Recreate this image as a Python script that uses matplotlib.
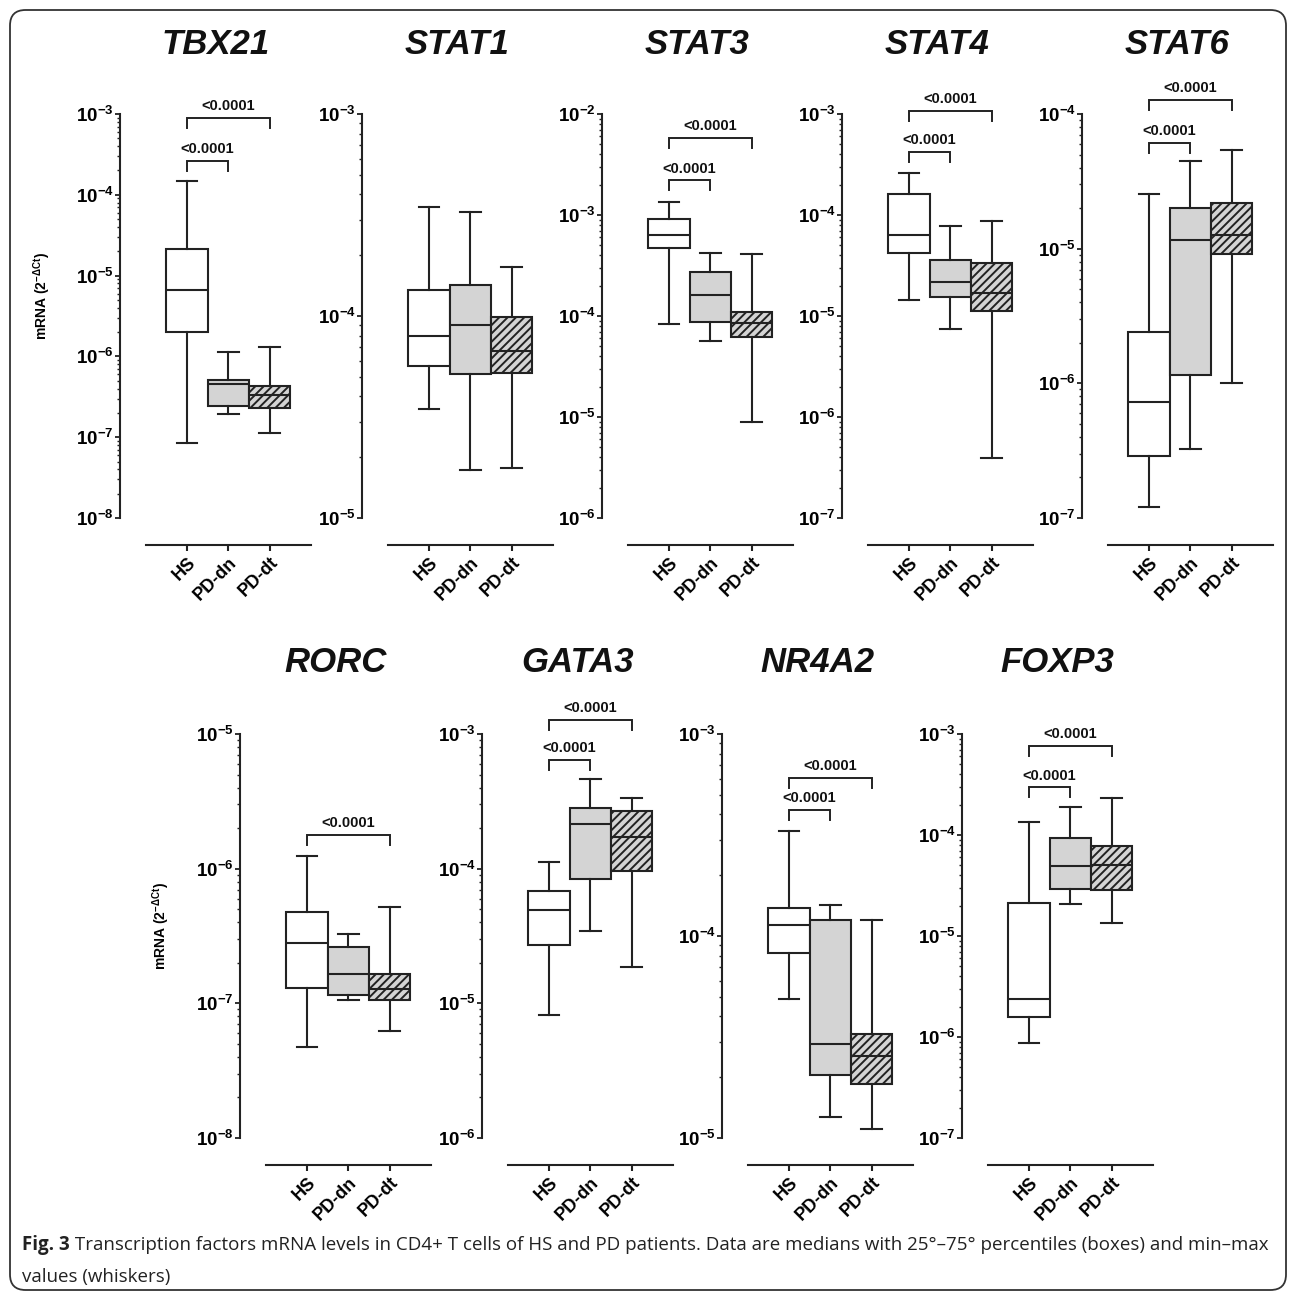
import numpy as np
import matplotlib
matplotlib.use("Agg")
import matplotlib.pyplot as plt
from matplotlib.ticker import LogLocator, NullFormatter, FuncFormatter
from matplotlib.patches import FancyBboxPatch

# ---------------- data ----------------
GENES = ["TBX21", "STAT1", "STAT3", "STAT4", "STAT6", "RORC", "GATA3", "NR4A2", "FOXP3"]
GROUPS = ["HS", "PD-dn", "PD-dt"]

WHISLO = [
    [8.4e-8, 1.94e-7, 1.12e-7],
    [3.47e-5, 1.73e-5, 1.76e-5],
    [8.3e-5, 5.7e-5, 9.0e-6],
    [1.44e-5, 7.5e-6, 3.9e-7],
    [1.2e-7, 3.25e-7, 1.0e-6],
    [4.7e-8, 1.05e-7, 6.2e-8],
    [8.2e-6, 3.46e-5, 1.85e-5],
    [4.9e-5, 1.27e-5, 1.11e-5],
    [8.7e-7, 2.06e-5, 1.33e-5],
]
Q1 = [
    [2.0e-6, 2.45e-7, 2.33e-7],
    [5.68e-5, 5.19e-5, 5.2e-5],
    [4.7e-4, 8.8e-5, 6.2e-5],
    [4.2e-5, 1.53e-5, 1.12e-5],
    [2.89e-7, 1.15e-6, 9.2e-6],
    [1.3e-7, 1.16e-7, 1.06e-7],
    [2.73e-5, 8.36e-5, 9.6e-5],
    [8.28e-5, 2.05e-5, 1.85e-5],
    [1.59e-6, 2.93e-5, 2.84e-5],
]
MEDIAN = [
    [6.6e-6, 4.6e-7, 3.3e-7],
    [7.96e-5, 9.0e-5, 6.7e-5],
    [6.3e-4, 1.62e-4, 8.5e-5],
    [6.35e-5, 2.16e-5, 1.7e-5],
    [7.3e-7, 1.16e-5, 1.27e-5],
    [2.8e-7, 1.66e-7, 1.27e-7],
    [4.9e-5, 2.16e-4, 1.72e-4],
    [1.13e-4, 2.93e-5, 2.55e-5],
    [2.36e-6, 4.98e-5, 5.06e-5],
]
Q3 = [
    [2.15e-5, 5.1e-7, 4.3e-7],
    [1.35e-4, 1.42e-4, 9.9e-5],
    [9.1e-4, 2.74e-4, 1.1e-4],
    [1.62e-4, 3.55e-5, 3.35e-5],
    [2.39e-6, 2.02e-5, 2.18e-5],
    [4.8e-7, 2.6e-7, 1.66e-7],
    [6.87e-5, 2.83e-4, 2.68e-4],
    [1.38e-4, 1.2e-4, 3.26e-5],
    [2.11e-5, 9.35e-5, 7.78e-5],
]
WHISHI = [
    [1.5e-4, 1.13e-6, 1.29e-6],
    [3.46e-4, 3.28e-4, 1.74e-4],
    [1.34e-3, 4.25e-4, 4.15e-4],
    [2.63e-4, 7.7e-5, 8.7e-5],
    [2.55e-5, 4.47e-5, 5.37e-5],
    [1.24e-6, 3.28e-7, 5.2e-7],
    [1.12e-4, 4.6e-4, 3.34e-4],
    [3.32e-4, 1.43e-4, 1.2e-4],
    [1.33e-4, 1.89e-4, 2.35e-4],
]
YLIM = [(1e-8, 1e-3), (1e-5, 1e-3), (1e-6, 1e-2), (1e-7, 1e-3), (1e-7, 1e-4),
        (1e-8, 1e-5), (1e-6, 1e-3), (1e-5, 1e-3), (1e-7, 1e-3)]
# significance brackets: (group a, group b, level, label)
BRACKETS = [
    [(0, 2, 9.0e-4, "<0.0001"), (0, 1, 2.6e-4, "<0.0001")],
    [],
    [(0, 2, 5.8e-3, "<0.0001"), (0, 1, 2.2e-3, "<0.0001")],
    [(0, 2, 1.08e-3, "<0.0001"), (0, 1, 4.2e-4, "<0.0001")],
    [(0, 2, 1.28e-4, "<0.0001"), (0, 1, 6.1e-5, "<0.0001")],
    [(0, 2, 1.79e-6, "<0.0001")],
    [(0, 2, 1.28e-3, "<0.0001"), (0, 1, 6.4e-4, "<0.0001")],
    [(0, 2, 6.05e-4, "<0.0001"), (0, 1, 4.19e-4, "<0.0001")],
    [(0, 2, 7.6e-4, "<0.0001"), (0, 1, 2.96e-4, "<0.0001")],
]
YLABEL = r"mRNA (2$^{\mathbf{-\Delta Ct}}$)"
CAPTION_BOLD = "Fig. 3"
CAPTION_1 = (" Transcription factors mRNA levels in CD4+ T cells of HS and PD patients. "
             "Data are medians with 25°–75° percentiles (boxes) and min–max")
CAPTION_2 = "values (whiskers)"

# ---------------- layout / style ----------------
W, H, DPI = 1295, 1293, 100
PANEL_X = [120, 362, 602, 842, 1082, 240, 482, 722, 962]
ROW_TOP = [114, 114, 114, 114, 114, 734, 734, 734, 734]
TITLE_Y = [44, 44, 44, 44, 44, 662, 662, 662, 662]
AX_W, AX_H = 191, 404
LC = "#222222"
FILLS = ["white", "#d4d4d4", "#d4d4d4"]
HATCH = [None, None, "////"]

plt.rcParams["font.family"] = ["Liberation Sans", "DejaVu Sans"]
plt.rcParams["mathtext.fontset"] = "custom"
plt.rcParams["mathtext.rm"] = "Liberation Sans"
plt.rcParams["mathtext.bf"] = "Liberation Sans:bold"
plt.rcParams["mathtext.it"] = "Liberation Sans:italic"
plt.rcParams["hatch.linewidth"] = 1.4

fig = plt.figure(figsize=(W / DPI, H / DPI), dpi=DPI)


def dec_fmt(v, pos):
    e = int(round(np.log10(v)))
    return r"$\mathbf{10^{%d}}$" % e


axes = []
for k, gene in enumerate(GENES):
    x0, yt = PANEL_X[k], ROW_TOP[k]
    ax = fig.add_axes([x0 / W, 1 - (yt + AX_H) / H, AX_W / W, AX_H / H])
    ax.set_facecolor("none")
    ax.set_yscale("log")
    ax.set_ylim(*YLIM[k])
    ax.set_xlim(-1.62, 3.0)
    stats = [dict(med=MEDIAN[k][g], q1=Q1[k][g], q3=Q3[k][g],
                  whislo=WHISLO[k][g], whishi=WHISHI[k][g], fliers=[])
             for g in range(3)]
    bp = ax.bxp(stats, positions=[0, 1, 2], widths=1.0, capwidths=0.5,
                patch_artist=True, showfliers=False,
                boxprops=dict(linewidth=1.5, edgecolor=LC),
                medianprops=dict(color=LC, linewidth=1.5),
                whiskerprops=dict(color=LC, linewidth=1.5),
                capprops=dict(color=LC, linewidth=1.5))
    for g, box in enumerate(bp["boxes"]):
        box.set_facecolor(FILLS[g])
        box.set_edgecolor(LC)
        if HATCH[g]:
            box.set_hatch(HATCH[g])
    for sp in ("top", "right"):
        ax.spines[sp].set_visible(False)
    for sp in ("left", "bottom"):
        ax.spines[sp].set_linewidth(1.5)
        ax.spines[sp].set_color(LC)
    ax.spines["bottom"].set_position(("outward", 19.4))
    ax.spines["bottom"].set_bounds(-0.99, 3.0)
    ax.set_xticks([0, 1, 2])
    ax.set_xticklabels(GROUPS, rotation=45, ha="right", rotation_mode="anchor",
                       fontsize=13, fontweight="bold")
    ax.tick_params(axis="x", length=4.3, width=1.5, color=LC, pad=2)
    ax.yaxis.set_major_locator(LogLocator(base=10, numticks=20))
    ax.yaxis.set_minor_locator(LogLocator(base=10, subs=np.arange(2, 10), numticks=20))
    ax.yaxis.set_major_formatter(FuncFormatter(dec_fmt))
    ax.yaxis.set_minor_formatter(NullFormatter())
    ax.tick_params(axis="y", which="major", length=3.6, width=1.3, color=LC,
                   labelsize=13.5, pad=1)
    ax.tick_params(axis="y", which="minor", length=2.0, width=1.0, color=LC)
    fig.text((x0 + AX_W / 2) / W, 1 - TITLE_Y[k] / H, gene, ha="center", va="center",
             fontsize=25, fontweight="bold", fontstyle="italic", color="#111111")
    axes.append(ax)

# y labels
fig.text(42 / W, 1 - 296 / H, YLABEL, rotation=90, ha="center", va="center",
         fontsize=10, fontweight="bold")
fig.text(161 / W, 1 - 926 / H, YLABEL, rotation=90, ha="center", va="center",
         fontsize=10, fontweight="bold")

# brackets
for k, ax in enumerate(axes):
    for (a, b, lev, lab) in BRACKETS[k]:
        dx, dy = ax.transData.transform((a, lev))
        ydown = ax.transData.inverted().transform((dx, dy - 10))[1]
        ax.plot([a, a, b, b], [ydown, lev, lev, ydown], color=LC, lw=1.4,
                clip_on=False, solid_joinstyle="miter")
        ax.annotate(lab, xy=((a + b) / 2, lev), xytext=(0, 3.5), textcoords="offset points",
                    ha="center", va="bottom", fontsize=10.5, fontweight="bold",
                    annotation_clip=False, color="#111111")

# caption
renderer = fig.canvas.get_renderer()
cap_font = ["Open Sans", "DejaVu Sans"]
fs = 12.0
for _ in range(3):
    tb = fig.text(0, 0, CAPTION_BOLD, fontsize=fs, fontweight="bold", family=cap_font)
    tr = fig.text(0, 0, CAPTION_1, fontsize=fs, family=cap_font)
    wtot = tb.get_window_extent(renderer).width + tr.get_window_extent(renderer).width
    tb.remove(); tr.remove()
    fs = fs * (1273 - 22) / wtot
tb = fig.text(22 / W, 1 - 1250 / H, CAPTION_BOLD, fontsize=fs, fontweight="bold",
              family=cap_font, va="baseline", color="#222222")
wb = tb.get_window_extent(renderer).width
fig.text((22 + wb) / W, 1 - 1250 / H, CAPTION_1, fontsize=fs, family=cap_font,
         va="baseline", color="#222222")
fig.text(22 / W, 1 - 1282 / H, CAPTION_2, fontsize=fs, family=cap_font,
         va="baseline", color="#222222")

# rounded frame
frame = FancyBboxPatch((10 / W, 1 - 1290 / H), 1276 / W, 1280 / H,
                       boxstyle="round,pad=0,rounding_size=0.012",
                       transform=fig.transFigure, fill=False, lw=1.3, ec="#333333")
fig.patches.append(frame)

fig.savefig("out.png", dpi=DPI)
